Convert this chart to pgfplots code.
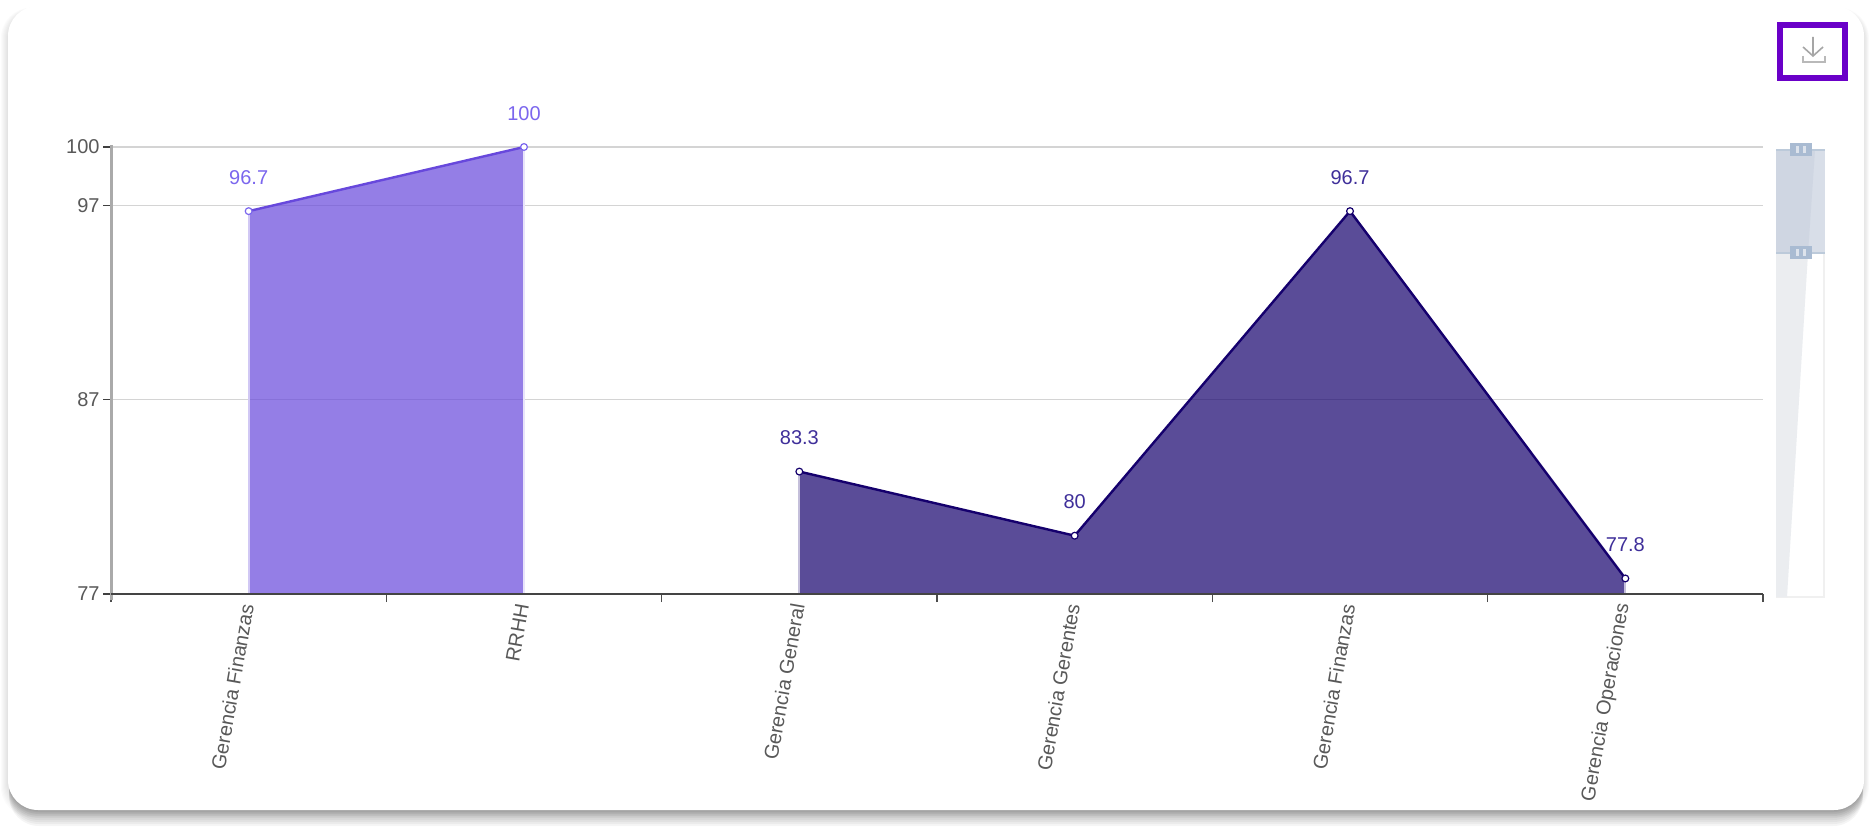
\documentclass[border=0pt]{standalone}
\usepackage{fontspec}
\setmainfont{Liberation Sans}
\usepackage{pgfplots}
\pgfplotsset{compat=1.18}
\definecolor{lightser}{HTML}{6748DC}
\definecolor{darkser}{HTML}{15006D}
\definecolor{lightlab}{HTML}{7B66EE}
\definecolor{darklab}{HTML}{3F2F9A}
\definecolor{btn}{HTML}{6A00C8}
\definecolor{axdark}{HTML}{444444}
\definecolor{axgrey}{HTML}{AAAAAA}
\definecolor{selA}{HTML}{D8DEE8}
\definecolor{selB}{HTML}{CFD6E2}
\definecolor{selL}{HTML}{BCCADA}
\definecolor{handle}{HTML}{A9BBD2}
\definecolor{handleb}{HTML}{DDE3EC}
\definecolor{shadowbar}{HTML}{EBEDF0}
\begin{document}
\begin{tikzpicture}
\begin{scope}[x=0.5pt,y=-0.5pt,yshift=413pt]
\path[fill=white] (0,0) rectangle (1872,826);
% card shadow: faint all round, stronger below
\foreach \i in {1,...,7}{
  \fill[black,opacity=0.014,rounded corners=15pt] ({8-\i},{10-0.3*\i}) rectangle ({1864+0.7*\i},{810+\i});
}
\foreach \i in {1,...,8}{
  \fill[black,opacity=0.04,rounded corners=15pt] (9,300) rectangle (1863,{810+2*\i});
}
\fill[white,rounded corners=15pt] (8,6) rectangle (1864,810);
% download button
\draw[btn,line width=3pt] (1780,25) rectangle (1845,78);
\draw[gray!70,line width=0.8pt] (1813,37) -- (1813,56) (1803,47) -- (1813,56) -- (1823,47);
\draw[gray!55,line width=0.9pt] (1803,56) -- (1803,62) -- (1825,62) -- (1825,56);
% slider
\fill[white] (1776,148) rectangle (1825,598);
\draw[black!6,line width=1pt] (1777,253) -- (1777,597) -- (1824,597) -- (1824,253);
\fill[shadowbar] (1776,253) -- (1808,253) -- (1787,597) -- (1776,597) -- cycle;
\fill[selA] (1776,150) rectangle (1825,253);
\fill[selB] (1776,150) -- (1815,150) -- (1808,253) -- (1776,253) -- cycle;
\draw[selL,line width=1pt] (1776,150) -- (1825,150) (1776,253) -- (1825,253);
\foreach \yy in {143,246}{
  \fill[handle] (1790,\yy) rectangle (1812,{\yy+13});
  \fill[handleb] (1796,{\yy+3}) rectangle (1799,{\yy+10});
  \fill[handleb] (1803,{\yy+3}) rectangle (1806,{\yy+10});
}
\end{scope}
\begin{axis}[
  at={(55.5pt,116pt)}, anchor=south west,
  scale only axis, width=826pt, height=223.5pt,
  xmin=0, xmax=6, ymin=77, ymax=100,
  clip=false,
  axis lines=left,
  axis line style={-},
  x axis line style={draw=axdark,line width=1pt},
  y axis line style={draw=axgrey,line width=1.5pt,shorten >=-1pt,shorten <=-3pt},
  ytick={77,87,97,100},
  xtick={0.5,1.5,2.5,3.5,4.5,5.5},
  xticklabels={Gerencia Finanzas,RRHH,Gerencia General,Gerencia Gerentes,Gerencia Finanzas,Gerencia Operaciones},
  minor xtick={0,1,2,3,4,5,6},
  tick align=outside,
  major tick length=4pt,
  minor tick length=4pt,
  major x tick style={draw=none},
  minor x tick style={draw=black!70,line width=0.6pt},
  major y tick style={draw=black!75,line width=0.6pt},
  ymajorgrids,
  grid style={draw=black!17,line width=0.8pt},
  tick label style={font=\fontsize{10}{12}\selectfont,text=black!65},
  yticklabel style={inner sep=0pt,xshift=-1.5pt},
  /pgf/number format/assume math mode=true,
  xticklabel style={rotate=80,anchor=east,inner sep=0pt,yshift=0.6pt,xshift=-1pt},
]
% area fills
\addplot[fill=lightser,fill opacity=0.7,draw=none] coordinates {(0.5,77) (0.5,96.7) (1.5,100) (1.5,77)} -- cycle;
\addplot[fill=darkser,fill opacity=0.7,draw=none] coordinates {(2.5,77) (2.5,83.3) (3.5,80) (4.5,96.7) (5.5,77.8) (5.5,77)} -- cycle;
% pale side edges
\addplot[color=lightser!30,line width=1pt] coordinates {(0.5,77) (0.5,96.7)};
\addplot[color=lightser!15,line width=1pt] coordinates {(1.5,77) (1.5,100)};
\addplot[color=darkser!25,line width=1pt] coordinates {(2.5,77) (2.5,83.3)};
\addplot[color=darkser!25,line width=1pt] coordinates {(5.5,77) (5.5,77.8)};
% lines with marks and labels
\addplot[color=lightser,line width=1.2pt,mark=*,mark size=1.7pt,mark options={fill=white,line width=0.6pt,draw=lightlab},
  nodes near coords,point meta=explicit symbolic,
  every node near coord/.append style={font=\fontsize{10}{12}\selectfont,anchor=south,inner sep=0pt,yshift=13pt,text=lightlab}]
  coordinates {(0.5,96.7)[96.7] (1.5,100)[100]};
\addplot[color=darkser,line width=1.2pt,mark=*,mark size=1.7pt,mark options={fill=white,line width=0.6pt},
  nodes near coords,point meta=explicit symbolic,
  every node near coord/.append style={font=\fontsize{10}{12}\selectfont,anchor=south,inner sep=0pt,yshift=13pt,text=darklab}]
  coordinates {(2.5,83.3)[83.3] (3.5,80)[80] (4.5,96.7)[96.7] (5.5,77.8)[77.8]};
\draw[draw=axdark,line width=1pt] (axis cs:0,77) -- (axis cs:6,77);
\end{axis}
\end{tikzpicture}
\end{document}
